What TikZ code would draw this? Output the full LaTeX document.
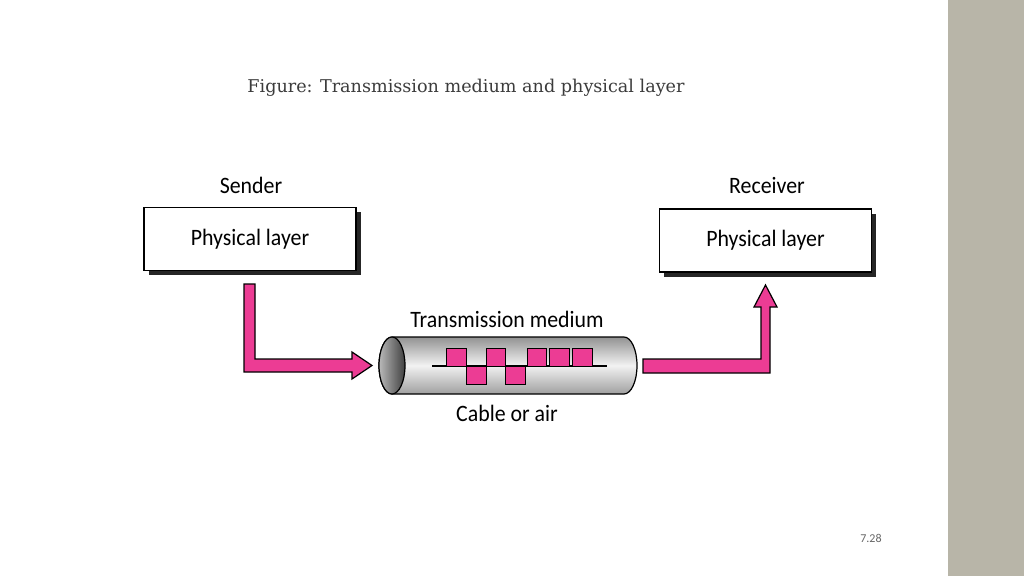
\documentclass[tikz,border=0pt]{standalone}
\usepackage{fontspec}
\usetikzlibrary{shadows}
\newfontfamily\figsans[FakeStretch=0.93]{Carlito}
\newfontfamily\pagesans{Carlito}
\newfontfamily\figserif{DejaVu Serif}
\definecolor{band}{RGB}{184,181,168}
\definecolor{sigpink}{RGB}{236,60,148}
\definecolor{titlegray}{RGB}{60,60,60}
\begin{document}
\begin{tikzpicture}[x=1pt,y=-1pt,
  lbl/.style={font=\figsans\fontsize{23.5}{28}\selectfont, inner sep=0pt},
  layerbox/.style={draw=black, line width=1.3pt, fill=white, minimum width=212pt, minimum height=63pt,
     drop shadow={shadow xshift=4.5pt, shadow yshift=-4.5pt, opacity=1, fill=black!85}, lbl},
  pinkarrow/.style={fill=sigpink, draw=black, line width=1.2pt, line join=miter},
  bit/.style={fill=sigpink, draw=black, line width=0.8pt},
  tube/.style={draw=black, line width=1.2pt}]
\useasboundingbox (0,0) rectangle (1024,576);
\fill[white] (0,0) rectangle (1024,576);
\fill[band] (948,0) rectangle (1024,576);

\node[font=\figserif\fontsize{17.6}{21}\selectfont, text=titlegray, inner sep=0pt] (title) at (466,88) {Figure: Transmission medium and physical layer};

% boxes
\node[layerbox] (sbox) at (250,239) {Physical layer};
\node[layerbox] (rbox) at (765.5,240.5) {Physical layer};
\node[lbl] (sender) at (251,185) {Sender};
\node[lbl] (receiver) at (767,185) {Receiver};

% cylinder
\shadedraw[tube, top color=gray!85, bottom color=gray!75, middle color=gray!10]
  (392,337) -- (624,337) arc[start angle=-90, end angle=90, x radius=13, y radius=28.5]
  -- (392,394) arc[start angle=90, end angle=270, x radius=13, y radius=28.5] -- cycle;
\shadedraw[tube, left color=gray!55, right color=black!75] (392,365.5) ellipse[x radius=13, y radius=28.5];
\coordinate (tubeL) at (378,365.5);
\coordinate (tubeR) at (637,365.5);

% signal
\draw[line width=1.3pt] (432,366) -- (607,366);
\draw[bit] (446,348) rectangle (466,366);
\draw[bit] (466,366) rectangle (486,384);
\draw[bit] (486,348) rectangle (505,366);
\draw[bit] (505,366) rectangle (525,384);
\draw[bit] (527,348) rectangle (546,366);
\draw[bit] (549,348) rectangle (569,366);
\draw[bit] (572,348) rectangle (592,366);

\node[lbl] (medium) at (507,319) {Transmission medium};
\node[lbl] (cable) at (507,413) {Cable or air};

% arrows
\filldraw[pinkarrow] (244,284) -- (255,284) -- (255,359) -- (352,359) -- (352,352) -- (372,365.5)
  -- (352,379) -- (352,372) -- (244,372) -- cycle;
\filldraw[pinkarrow] (643,359) -- (761,359) -- (761,307) -- (754,307) -- (765.5,285) -- (777,307)
  -- (770,307) -- (770,373) -- (643,373) -- cycle;

\node[font=\pagesans\fontsize{12}{14}\selectfont, text=black!60, inner sep=0pt] (page) at (871,538) {7.28};
\end{tikzpicture}
\end{document}
